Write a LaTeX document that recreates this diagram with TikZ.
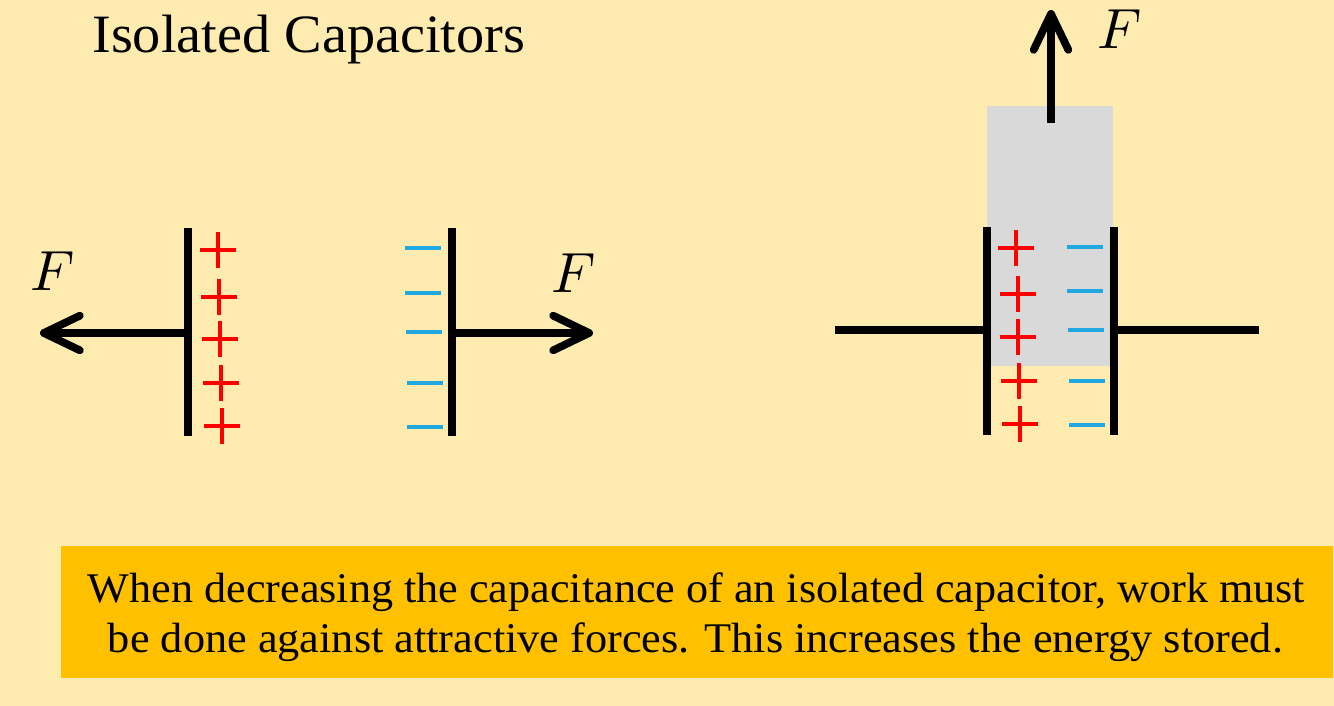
\documentclass[tikz,border=0pt]{standalone}
\usepackage{fontspec}
\setmainfont{Liberation Serif}
\usepackage{graphicx}
\usetikzlibrary{arrows.meta}
\definecolor{bgyellow}{HTML}{FEEBB0}
\definecolor{boxgold}{HTML}{FFC000}
\definecolor{platered}{HTML}{FF0000}
\definecolor{minusblue}{HTML}{20A9E1}
\definecolor{fillgray}{HTML}{D9D9D9}
\tikzset{
  plate/.style={line width=5.8pt},
  force/.style={line width=5.8pt,-{Straight Barb[length=27pt,width=26pt,line cap=round,line join=round]}},
  wire/.style={line width=5.6pt},
  plussign/.style={platered,line width=3pt},
  minussign/.style={minusblue,line width=3pt},
  flabel/.style={inner sep=0pt},
}
\newcommand{\plusat}[2]{\draw[plussign] (#1-18,#2) -- (#1+18,#2) (#1,#2-18) -- (#1,#2+18);}
\newcommand{\minusat}[2]{\draw[minussign] (#1-18,#2) -- (#1+18,#2);}
\newcommand{\bigF}{\scalebox{4.25}{$F$}}
\begin{document}
\begin{tikzpicture}[x=0.75pt,y=-0.75pt]
\fill[bgyellow] (0,0) rectangle (1334,706);
\useasboundingbox (0,0) rectangle (1334,706);
% title
\node[anchor=base west,inner sep=0pt] (title) at (92,53)
  {\fontsize{40.5}{48}\selectfont\resizebox{324.75pt}{\height}{Isolated Capacitors}};
% left plate
\coordinate (LpT) at (188,228);
\coordinate (LpB) at (188,436);
\coordinate (LpM) at (188,333);
\coordinate (Ltip) at (40,333);
\draw[plate] (LpT) -- (LpB);
\draw[force] (LpM) -- (Ltip);
\node[flabel] (FL) at (53,271) {\bigF};
\plusat{218}{250}
\plusat{219}{297}
\plusat{220}{339}
\plusat{221}{383}
\plusat{222}{426}
% right plate
\coordinate (RpT) at (452,228);
\coordinate (RpB) at (452,436);
\coordinate (RpM) at (452,333);
\coordinate (Rtip) at (593,333);
\draw[plate] (RpT) -- (RpB);
\draw[force] (RpM) -- (Rtip);
\node[flabel] (FR) at (574,273) {\bigF};
\minusat{423}{248}
\minusat{423}{293}
\minusat{424}{332}
\minusat{425}{383}
\minusat{425}{427}
% right capacitor with dielectric
\fill[fillgray] (987,106) rectangle (1113,366);
\coordinate (CaT) at (987,227);
\coordinate (CaB) at (987,435);
\coordinate (CbT) at (1114,227);
\coordinate (CbB) at (1114,435);
\coordinate (CaM) at (987,330);
\coordinate (CbM) at (1114,330);
\coordinate (Wl) at (835,330);
\coordinate (Wr) at (1259,330);
\draw[wire] (Wl) -- (CaM);
\draw[wire] (CbM) -- (Wr);
\draw[plate] (CaT) -- (CaB);
\draw[plate] (CbT) -- (CbB);
\coordinate (Ubase) at (1051,123);
\coordinate (Utip) at (1051,10);
\draw[force] (Ubase) -- (Utip);
\node[flabel] (FT) at (1120,29) {\bigF};
\plusat{1016}{248}
\plusat{1018}{294}
\plusat{1018}{337}
\plusat{1019}{381}
\plusat{1020}{424}
\minusat{1085}{247}
\minusat{1085}{291}
\minusat{1086}{330}
\minusat{1087}{381}
\minusat{1087}{425}
% bottom box
\fill[boxgold] (61,546) rectangle (1333,678);
\node[anchor=base,inner sep=0pt] (line1) at (696.5,602)
  {\fontsize{31.7}{38}\selectfont\resizebox{912.75pt}{\height}{When decreasing the capacitance of an isolated capacitor, work must}};
\node[anchor=base,inner sep=0pt] (line2) at (695.5,652)
  {\fontsize{31.7}{38}\selectfont\resizebox{881.25pt}{\height}{be done against attractive forces. This increases the energy stored.}};
\end{tikzpicture}
\end{document}
